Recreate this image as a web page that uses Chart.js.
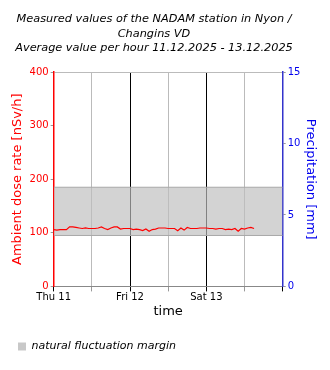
<!DOCTYPE html>
<html>
<head>
<meta charset="utf-8">
<script src="https://cdn.jsdelivr.net/npm/chart.js@4"></script>
<style>
  body { margin: 0; background: #fff; }
  #wrap { position: relative; width: 330px; height: 370px; }
  #title {
    position: absolute; left: 0; top: 12px; width: 308px;
    text-align: center; font: italic 11.3px "DejaVu Sans", sans-serif;
    line-height: 14.5px; color: #000;
  }
</style>
</head>
<body>
<div id="wrap">
  <div id="title">Measured values of the NADAM station in Nyon /<br>Changins VD<br>Average value per hour 11.12.2025 - 13.12.2025</div>
  <canvas id="plot" width="330" height="370"></canvas>
</div>
<script>
// hourly averages, Thu 11.12 00:00 onwards
var doseRate = [
  106, 105, 106, 106, 106, 111, 111, 110, 109, 108, 109, 108,
  108, 108, 109, 111, 108, 106, 109, 111, 111, 107, 108, 108,
  108, 106, 107, 106, 104, 107, 103, 106, 107, 109, 109, 109,
  108, 108, 108, 104, 109, 105, 110, 108, 108, 108, 109, 109,
  109, 108, 108, 107, 108, 108, 106, 107, 106, 108, 103, 108,
  107, 109, 110, 108
];
var marginLow = 95;
var marginHigh = 185;
var dayLabels = ["Thu 11", "Fri 12", "Sat 13"];

var dosePoints = doseRate.map(function (v, i) { return { x: i, y: v }; });

const ctx = document.getElementById("plot").getContext("2d");
const chart = new Chart(ctx, {
  type: "line",
  data: {
    datasets: [
      {
        label: "dose rate",
        data: dosePoints,
        borderColor: "#ff0000",
        borderWidth: 1.2,
        pointRadius: 0,
        tension: 0,
        fill: false,
        yAxisID: "y",
      },
      {
        label: "low",
        data: [{ x: 0, y: marginLow }, { x: 72, y: marginLow }],
        borderColor: "#a8a8a8",
        borderWidth: 1,
        pointRadius: 0,
        fill: false,
        yAxisID: "y",
      },
      {
        label: "natural fluctuation margin",
        data: [{ x: 0, y: marginHigh }, { x: 72, y: marginHigh }],
        borderColor: "#a8a8a8",
        backgroundColor: "rgba(190,190,190,0.68)",
        borderWidth: 1,
        pointRadius: 0,
        fill: "-1",
        yAxisID: "y",
      },
    ],
  },
  options: {
    responsive: false,
    animation: false,
    layout: { padding: { top: 72, left: 10, right: 6, bottom: 8 } },
    plugins: {
      tooltip: { enabled: false },
      title: { display: false },
      legend: {
        position: "bottom",
        align: "start",
        labels: {
          boxWidth: 8,
          boxHeight: 8,
          color: "#222",
          font: { family: "DejaVu Sans", size: 11, style: "italic" },
          padding: 8,
          generateLabels: function () {
            return [{
              text: "natural fluctuation margin",
              fillStyle: "#c8c8c8",
              strokeStyle: "#c8c8c8",
              lineWidth: 0,
              datasetIndex: 2,
            }];
          },
        },
      },
    },
    scales: {
      x: {
        type: "linear",
        min: 0,
        max: 72,
        ticks: {
          stepSize: 12,
          autoSkip: false,
          maxRotation: 0,
          color: "#000",
          font: { family: "DejaVu Sans", size: 10 },
          padding: 0,
          callback: function (v) {
            return v % 24 === 0 && v < 72 ? dayLabels[v / 24] : "";
          },
        },
        grid: {
          color: function (c) {
            if (c.tick.value === 0 || c.tick.value === 72) return "transparent";
            return c.tick.value % 24 === 0 ? "#000" : "#bbbbbb";
          },
          tickColor: function (c) {
            return c.tick.value % 24 === 0 ? "#000" : "#999";
          },
          tickLength: 5,
        },
        border: { color: "#888", width: 1 },
        title: {
          display: true,
          text: "time",
          color: "#000",
          font: { family: "DejaVu Sans", size: 13 },
          padding: { top: 0, bottom: 14 },
        },
      },
      y: {
        position: "left",
        min: 0,
        max: 400,
        ticks: {
          stepSize: 100,
          color: "#ff0000",
          font: { family: "DejaVu Sans", size: 10 },
          padding: 2,
        },
        grid: {
          color: function (c) { return c.tick.value === 400 ? "#bbbbbb" : "transparent"; },
          tickColor: "#999",
          tickLength: 3,
        },
        border: { color: "#ff0000", width: 1.5 },
        title: {
          display: true,
          text: "Ambient dose rate [nSv/h]",
          color: "#ff0000",
          font: { family: "DejaVu Sans", size: 13 },
          padding: { top: 0, bottom: 2 },
        },
      },
      y1: {
        position: "right",
        min: 0,
        max: 15,
        ticks: {
          stepSize: 5,
          color: "#0000ee",
          font: { family: "DejaVu Sans", size: 10 },
          padding: 2,
        },
        grid: { drawOnChartArea: false, tickColor: "#999", tickLength: 3 },
        border: { color: "#3333cc", width: 1.5 },
        title: {
          display: true,
          text: "Precipitation [mm]",
          color: "#0000ee",
          font: { family: "DejaVu Sans", size: 13 },
          padding: { top: 6, bottom: 0 },
        },
      },
    },
  },
});
</script>
</body>
</html>
